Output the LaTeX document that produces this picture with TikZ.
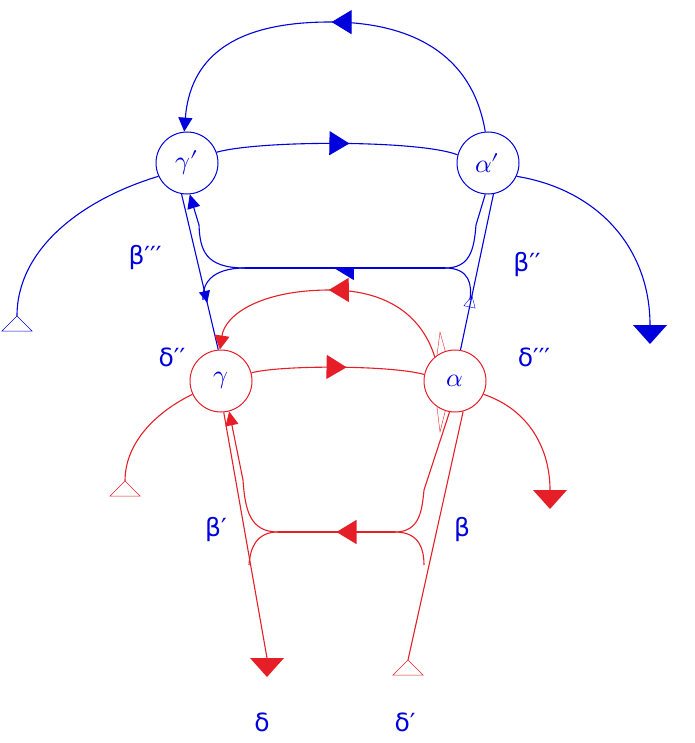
\documentclass[tikz,border=0pt]{standalone}
\usepackage{fontspec}
\usepackage{unicode-math}
\newfontfamily\lab{DejaVu Sans}
\usetikzlibrary{arrows.meta,decorations.markings}
\definecolor{bl}{RGB}{0,0,220}
\definecolor{rd}{RGB}{230,30,40}
\newcommand{\nt}[1]{\scalebox{2.6}{$#1$}}
\newcommand{\lt}[1]{\scalebox{2.5}{\lab #1}}
\begin{document}
\begin{tikzpicture}[x=1pt,y=-1pt,
 nd/.style={circle,draw,line width=1pt,minimum size=62pt,inner sep=0pt,text=bl},
 lb/.style={text=bl},
 ln/.style={line width=1.1pt},
 mk/.style={postaction={decorate,decoration={markings,mark=at position #1 with {\arrow{Triangle[length=20pt,width=24pt]}}}}},
 mkh/.style={postaction={decorate,decoration={markings,mark=at position #1 with {\arrow{Triangle[length=20pt,width=24pt,left]}}}}},
 sm/.style={postaction={decorate,decoration={markings,mark=at position #1 with {\arrow{Triangle[length=12pt,width=11pt]}}}}},
 so/.style={postaction={decorate,decoration={markings,mark=at position #1 with {\arrow{Triangle[open,length=12pt,width=12pt,line width=0.4pt]}}}}},
 ftri/.style={fill,draw=none},
 otri/.style={fill=white,line width=0.5pt}]
\useasboundingbox (0,0) rectangle (694,743);
\node[nd,draw=bl] (gp) at (187,163) {\nt{\gamma'}};
\node[nd,draw=bl] (ap) at (488,163) {\nt{\alpha'}};
\node[nd,draw=rd] (g) at (221,381) {\nt{\gamma}};
\node[nd,draw=rd] (a) at (455,381) {\nt{\alpha}};
\coordinate (bL) at (17,316);
\coordinate (bR) at (650,325);
\coordinate (rL) at (125,481);
\coordinate (rR) at (550,490);
\coordinate (rd1) at (267,658);
\coordinate (rd2) at (408,660);
% blue
\begin{scope}[draw=bl,ln,color=bl]
\draw[mk=0.5,-{Triangle[length=14pt,width=14pt]}] (ap.95) .. controls (470,40) and (390,22) .. (330,22) .. controls (230,22) and (190,60) .. (gp.95);
\draw[mk=0.55] (gp.20) .. controls (260,140) and (420,140) .. (ap.165);
\draw (gp.205) .. controls (80,200) and (17,250) .. (bL);
\draw[otri] (bL) -- ++(-15,15) -- ++(30,0) -- cycle;
\draw (ap.-25) .. controls (600,190) and (650,250) .. (bR);
\path[ftri] (bR) ++(-17,0) -- ++(34,0) -- ++(-17,19) -- cycle;
\draw[mkh=0.56] (445,268) -- (245,268);
\draw[-{Triangle[length=14pt,width=13pt]}] (245,268) .. controls (205,268) and (200,250) .. (199,225) -- (gp.-85);
\draw (245,268) .. controls (210,268) and (202,285) .. (203,300);
\draw[sm=0.7] (gp.-100) -- (g.95);
\draw (445,268) .. controls (470,268) and (474,250) .. (476,225) -- (ap.-95);
\draw (445,268) .. controls (470,268) and (472,285) .. (470,300);
\draw[so=0.35] (a.80) -- (ap.-80);
\end{scope}
% red
\begin{scope}[draw=rd,ln,color=rd]
\draw[mk=0.5,-{Triangle[length=14pt,width=15pt]}] (a.130) .. controls (420,310) and (380,290) .. (330,290) .. controls (260,290) and (225,315) .. (g.92);
\draw[mk=0.55] (g.15) .. controls (280,365) and (390,365) .. (a.168);
\draw (g.205) .. controls (160,410) and (125,440) .. (rL);
\draw[otri] (rL) -- ++(-15,15) -- ++(30,0) -- cycle;
\draw (a.-25) .. controls (530,410) and (550,450) .. (rR);
\path[ftri] (rR) ++(-17,0) -- ++(34,0) -- ++(-17,19) -- cycle;
\draw[mk=0.5] (395,532) -- (278,532);
\draw[-{Triangle[length=14pt,width=13pt]}] (278,532) .. controls (250,532) and (245,510) .. (243,480) -- (g.-75);
\draw (278,532) .. controls (255,532) and (250,550) .. (249,565);
\draw (g.-85) -- (rd1);
\path[ftri] (rd1) ++(-17,0) -- ++(34,0) -- ++(-17,19) -- cycle;
\draw (395,532) .. controls (420,532) and (422,510) .. (424,490) -- (a.-100);
\draw (395,532) .. controls (420,532) and (424,550) .. (424,565);
\draw (a.-75) -- (rd2);
\draw[otri] (rd2) -- ++(-15,15) -- ++(30,0) -- cycle;
\draw[line width=0.4pt] (a.125) -- (440,332) -- (a.108);
\draw[line width=0.4pt] (a.-125) -- (440,432) -- (a.-108);
\end{scope}
\node[lb] (l1) at (145,258) {\lt{β′′′}};
\node[lb] (l2) at (527,265) {\lt{β′′}};
\node[lb] (l3) at (172,357) {\lt{δ′′}};
\node[lb] (l4) at (534,357) {\lt{δ′′′}};
\node[lb] (l5) at (216,530) {\lt{β′}};
\node[lb] (l6) at (462,530) {\lt{β}};
\node[lb] (l7) at (262,722) {\lt{δ}};
\node[lb] (l8) at (405,722) {\lt{δ′}};
\end{tikzpicture}
\end{document}
